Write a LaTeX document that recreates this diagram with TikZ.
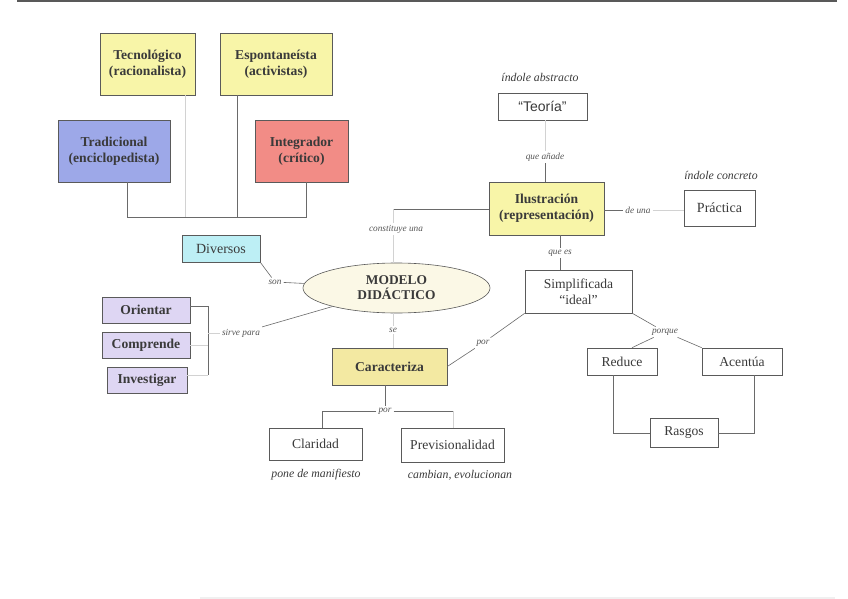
\documentclass[tikz,border=0pt]{standalone}
\usepackage{fontspec}
\setmainfont{Liberation Serif}
\newfontfamily\sansf{Liberation Sans}
\usetikzlibrary{shapes.geometric}
\definecolor{txt}{HTML}{3A3A3A}
\definecolor{labtxt}{HTML}{555555}
\definecolor{boxline}{HTML}{5A5A5A}
\definecolor{lncol}{HTML}{6A6A6A}
\definecolor{yelc}{HTML}{F8F5A8}
\definecolor{bluc}{HTML}{9DA8E8}
\definecolor{redc}{HTML}{F28C86}
\definecolor{cyac}{HTML}{BDEFF5}
\definecolor{lavc}{HTML}{DED6F3}
\definecolor{ellc}{HTML}{FBF8E6}
\definecolor{carc}{HTML}{F3E9A2}
\begin{document}
\begin{tikzpicture}[x=1pt,y=-1pt,
  box/.style={draw=boxline, line width=0.6pt, inner sep=1pt, align=center, text=txt,
    font=\fontsize{13.6}{16}\selectfont},
  bbox/.style={box, font=\bfseries\fontsize{13.6}{16}\selectfont},
  lab/.style={font=\itshape\fontsize{9.3}{10}\selectfont, text=labtxt, inner sep=2pt},
  dlab/.style={font=\itshape\fontsize{11.8}{13}\selectfont, text=txt, inner sep=1pt},
  conn/.style={draw=lncol, line width=0.6pt},
  faint/.style={draw=gray!35, line width=0.6pt}]
\useasboundingbox (0,0) rectangle (848,599);
\fill[white] (0,0) rectangle (848,599);
\fill[gray!70!black] (17,0) rectangle (837,2);
\fill[gray!12] (200,597) rectangle (835,599);

% top group
\node[bbox, fill=yelc, minimum width=95pt, minimum height=62pt] (tec) at (147.5,64) {Tecnológico\\(racionalista)};
\node[bbox, fill=yelc, minimum width=112pt, minimum height=62pt] (esp) at (276,64) {Espontaneísta\\(activistas)};
\node[bbox, fill=bluc, minimum width=112pt, minimum height=62pt] (tra) at (114,151) {Tradicional\\(enciclopedista)};
\node[bbox, fill=redc, minimum width=93pt, minimum height=62pt] (int) at (301.5,151) {Integrador\\(crítico)};
\coordinate (b1) at (127,217);
\coordinate (b2) at (185,217);
\coordinate (b3) at (237,217);
\coordinate (b4) at (306,217);
\draw[faint] (tec.south -| b2) -- (b2);
\draw[conn] (tra.south -| b1) -- (b1) -- (b4) -- (int.south -| b4);
\draw[conn] (esp.south -| b3) -- (b3);

% right upper
\node[dlab] (abs) at (540,77) {índole abstracto};
\node[box, font=\sansf\fontsize{14}{16}\selectfont, minimum width=89pt, minimum height=27pt] (teo) at (542.5,106.5) {“Teoría”};
\node[bbox, fill=yelc, minimum width=115pt, minimum height=53pt] (ilu) at (546.5,208.5) {Ilustración\\(representación)};
\node[lab] (qa) at (545,157) {que añade};
\draw[faint] (teo.south -| qa) -- (qa);
\draw[conn] (qa) -- (ilu.north -| qa);
\node[dlab] (conc) at (721,175) {índole concreto};
\node[box, font=\fontsize{14}{16}\selectfont, minimum width=71pt, minimum height=36pt] (pra) at (719.5,208) {Práctica};
\node[lab] (deuna) at (638,210) {de una};
\draw[conn] (ilu.east |- deuna) -- (deuna);
\draw[faint] (deuna) -- (pra.west |- deuna);

% model
\node[ellipse, draw=boxline, line width=0.6pt, fill=ellc, minimum width=187pt, minimum height=50pt,
  inner sep=0pt, align=center, text=txt, font=\bfseries\fontsize{13.4}{15}\selectfont] (mod) at (396.5,288) {MODELO\\DIDÁCTICO};
\coordinate (cu) at (393,209);
\node[lab] (ct) at (396,229) {constituye una};
\draw[conn] (ilu.west |- cu) -- (cu);
\draw[faint] (cu) -- (ct.north -| cu);
\draw[faint] (ct.south -| cu) -- (mod.north -| cu);

\node[box, minimum width=107pt, minimum height=43pt] (sim) at (578.5,291.5) {Simplificada\\“ideal”};
\node[lab] (qe) at (560,253) {que es};
\draw[conn] (ilu.south -| qe) -- (qe);
\draw[conn] (qe) -- (sim.north -| qe);

% left
\node[box, fill=cyac, font=\fontsize{14}{16}\selectfont, minimum width=78pt, minimum height=27pt] (div) at (221,248.5) {Diversos};
\node[lab] (son) at (275,282) {son};
\draw[conn] (div.south east) -- (son);
\draw[conn] (son) -- (mod);

\node[bbox, fill=lavc, minimum width=88pt, minimum height=26pt] (ori) at (146,310) {Orientar};
\node[bbox, fill=lavc, minimum width=88pt, minimum height=26pt] (com) at (146,345) {Comprende};
\node[bbox, fill=lavc, minimum width=80pt, minimum height=26pt] (inv) at (147,380) {Investigar};
\coordinate (br) at (208,333);
\coordinate (brt) at (208,306);
\coordinate (brb) at (208,375);
\draw[conn] (ori.east |- brt) -- (brt) -- (brb);
\draw[faint] (com.east) -- (com.east -| br);
\draw[faint] (inv.east |- brb) -- (brb);
\node[lab] (sp) at (241,333) {sirve para};
\draw[faint] (br) -- (sp);
\draw[conn] (sp) -- (mod);

% caracteriza
\node[bbox, fill=carc, minimum width=115pt, minimum height=37pt] (car) at (389.5,366.5) {Caracteriza};
\node[lab] (se) at (393,330) {se};
\draw[faint] (mod.south -| se) -- (se);
\draw[faint] (se) -- (car.north -| se);
\node[lab] (por1) at (483,343) {por};
\draw[conn] (car.east) -- (por1);
\draw[conn] (por1) -- (sim.south west);

% porque
\node[box, minimum width=70pt, minimum height=27pt] (red) at (622,361.5) {Reduce};
\node[box, minimum width=80pt, minimum height=27pt] (acc) at (742,361.5) {Acentúa};
\node[box, minimum width=68pt, minimum height=29pt] (ras) at (684,433) {Rasgos};
\node[lab] (pq) at (665,332) {porque};
\draw[conn] (sim.south east) -- (pq);
\draw[conn] (pq) -- ([xshift=10pt]red.north);
\draw[conn] (pq) -- (acc.north west);
\draw[conn] ([xshift=-9pt]red.south) |- (ras.west);
\draw[conn] ([xshift=12pt]acc.south) |- (ras.east);

% bottom
\node[box, minimum width=93pt, minimum height=32pt] (cla) at (315.5,444) {Claridad};
\node[box, minimum width=103pt, minimum height=34pt] (prev) at (452.5,445) {Previsionalidad};
\node[lab] (por2) at (385,411) {por};
\coordinate (pe) at (453,411);
\draw[conn] ([xshift=-4.5pt]car.south) -- (por2.north);
\draw[conn] (por2.west) -| ([xshift=6.5pt]cla.north);
\draw[conn] (por2.east) -- (pe);
\draw[faint] (pe) -- (prev.north -| pe);
\node[dlab] (pm) at (316,475) {pone de manifiesto};
\node[dlab] (ce) at (460,475) {cambian, evolucionan};
\end{tikzpicture}
\end{document}
